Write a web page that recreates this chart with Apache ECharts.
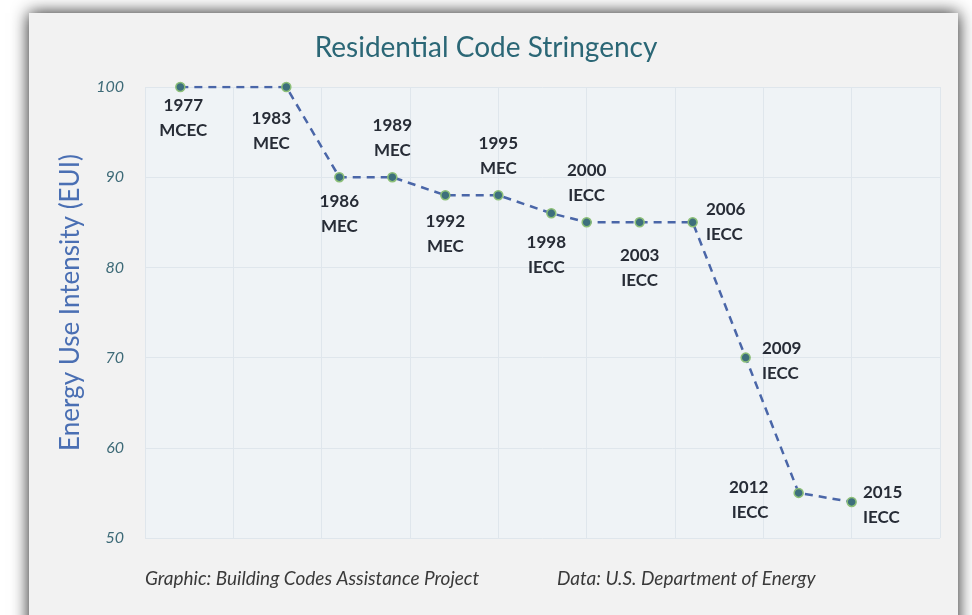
<!DOCTYPE html>
<html>
<head>
<meta charset="utf-8">
<script src="https://cdn.jsdelivr.net/npm/echarts@6/dist/echarts.min.js"></script>
<style>
  html, body { margin: 0; padding: 0; background: #fff; }
  #chart { width: 972px; height: 615px; }
</style>
</head>
<body>
<div id="chart"></div>
<script>
  // code editions and their energy use intensity (1977 = 100)
  var years = [1977, 1983, 1986, 1989, 1992, 1995, 1998, 2000, 2003, 2006, 2009, 2012, 2015];
  var eui = [100, 100, 90, 90, 88, 88, 86, 85, 85, 85, 70, 55, 54];
  var codes = ['MCEC', 'MEC', 'MEC', 'MEC', 'MEC', 'MEC', 'IECC', 'IECC', 'IECC', 'IECC', 'IECC', 'IECC', 'IECC'];
  var yTicks = [50, 60, 70, 80, 90, 100];

  // where each label sits next to its point: [position, distance, dx, dy]
  var labelPlace = [
    ['bottom', 1, 3, 0],
    ['bottom', 14, -15, 0],
    ['bottom', 7, 0, 0],
    ['top', 9, 0, 0],
    ['bottom', 9, 0, 0],
    ['top', 9, 0, 0],
    ['bottom', 11, -5, 0],
    ['top', 9, 0, 0],
    ['bottom', 15, 0, 0],
    ['right', 8, 0, 0],
    ['right', 11, 0, 3],
    ['left', 25, 0, 7],
    ['right', 6, 0, 3]
  ];

  var chart = echarts.init(document.getElementById('chart'));

  var points = [];
  for (var i = 0; i < years.length; i++) {
    var p = labelPlace[i];
    points.push({
      value: [years[i], eui[i]],
      label: {
        position: p[0],
        distance: p[1],
        offset: [p[2], p[3]],
        align: (p[0] == 'top' || p[0] == 'bottom') ? 'center' : (p[0] == 'left' ? 'right' : 'left'),
        formatter: years[i] + '\n' + codes[i]
      }
    });
  }

  var option = {
    backgroundColor: '#ffffff',
    animation: false,
    title: {
      text: 'Residential Code Stringency',
      left: 'center',
      top: 29,
      textStyle: {
        fontFamily: 'Lato',
        fontWeight: 'normal',
        fontSize: 28,
        color: '#2b6776'
      }
    },
    graphic: [
      {
        type: 'rect',
        z: -10,
        shape: { x: 29, y: 13, width: 929, height: 640 },
        style: {
          fill: '#f2f2f2',
          shadowBlur: 16,
          shadowColor: 'rgba(0,0,0,0.9)'
        }
      },
      {
        type: 'text',
        left: 145,
        top: 569,
        style: {
          text: 'Graphic: Building Codes Assistance Project',
          fontFamily: 'Lato',
          fontStyle: 'italic',
          fontSize: 19,
          fill: '#3a3a3a'
        }
      },
      {
        type: 'text',
        left: 557,
        top: 569,
        style: {
          text: 'Data: U.S. Department of Energy',
          fontFamily: 'Lato',
          fontStyle: 'italic',
          fontSize: 19,
          fill: '#3a3a3a'
        }
      }
    ],
    grid: {
      left: 145,
      right: 32,
      top: 87,
      bottom: 77,
      show: true,
      backgroundColor: '#eff3f6',
      borderWidth: 0
    },
    xAxis: {
      type: 'value',
      min: 1975,
      max: 2020,
      interval: 5,
      axisLine: { show: false },
      axisTick: { show: false },
      axisLabel: { show: false },
      splitLine: { show: true, lineStyle: { color: '#dfe6ec', width: 1 } }
    },
    yAxis: {
      type: 'value',
      min: yTicks[0],
      max: yTicks[yTicks.length - 1],
      interval: 10,
      name: 'Energy Use Intensity (EUI)',
      nameLocation: 'middle',
      nameGap: 61,
      nameTextStyle: {
        fontFamily: 'Lato',
        fontSize: 26,
        color: '#4a6fb3',
        padding: [0, 0, 0, 20]
      },
      axisLine: { show: false },
      axisTick: { show: false },
      axisLabel: {
        margin: 21,
        fontFamily: 'Lato',
        fontStyle: 'italic',
        fontSize: 16,
        color: '#3d6a77'
      },
      splitLine: { show: true, lineStyle: { color: '#dfe6ec', width: 1 } }
    },
    series: [
      {
        name: 'EUI',
        type: 'line',
        data: points,
        symbol: 'circle',
        symbolSize: 9,
        itemStyle: {
          color: '#3d6f7c',
          borderColor: '#8cbf78',
          borderWidth: 1.5
        },
        lineStyle: {
          color: '#4a66a8',
          width: 2.5,
          type: [8, 6]
        },
        label: {
          show: true,
          fontFamily: 'Lato',
          fontWeight: 'bold',
          fontSize: 17,
          lineHeight: 25,
          color: '#272c36'
        }
      }
    ]
  };

  chart.setOption(option);
</script>
</body>
</html>
